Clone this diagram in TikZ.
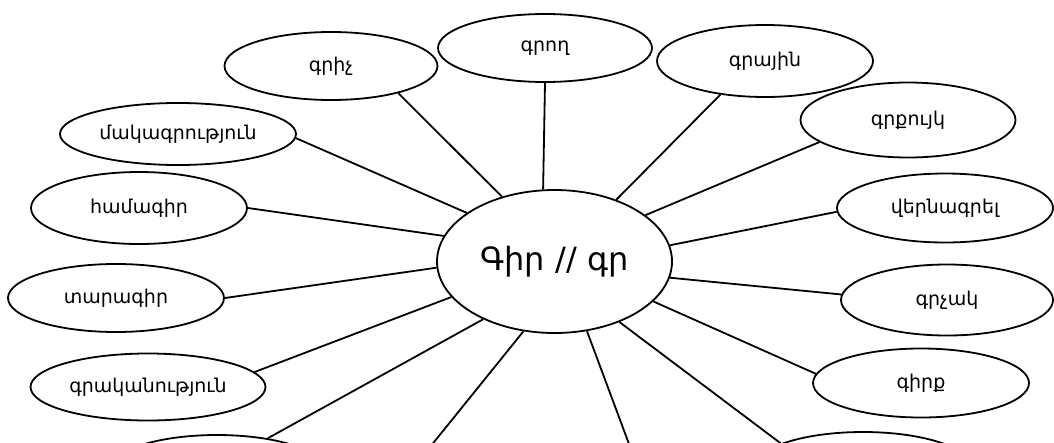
\documentclass[tikz,border=0pt]{standalone}
\usepackage{fontspec}
\setmainfont{DejaVu Sans}
\usetikzlibrary{shapes.geometric}
\begin{document}
\begin{tikzpicture}[x=1pt,y=-1pt,
  bub/.style={draw, ellipse, line width=1.8pt, inner sep=0pt, minimum width=216pt, minimum height=70pt, font=\fontsize{19}{22}\selectfont, fill=white},
  link/.style={line width=1.8pt}]
\useasboundingbox (0,0) rectangle (1054,442);
\clip (0,0) rectangle (1054,442);
\fill[white] (0,0) rectangle (1054,442);
% central node
\node[bub, minimum width=235pt, minimum height=143pt, font=\fontsize{32}{38}\selectfont] (main) at (554.5,261.5) {Գիր // գր};
% outer nodes
\node[bub, minimum width=213pt, minimum height=68pt] (grich) at (331,66) {գրիչ};
\node[bub, minimum width=214pt, minimum height=68pt] (grogh) at (545,48) {գրող};
\node[bub, minimum height=72pt] (grayin) at (765,61) {գրային};
\node[bub, minimum width=215pt, minimum height=75pt] (grqujk) at (908,120) {գրքույկ};
\node[bub, minimum height=69pt] (vernagrel) at (945,208) {վերնագրել};
\node[bub, minimum width=212pt, minimum height=71pt] (grchak) at (947,300) {գրչակ};
\node[bub, minimum height=69pt] (girq) at (921,383) {գիրք};
\node[bub] (br) at (863,467) {};
\node[bub] (bl) at (217,470) {};
\node[bub, minimum width=235pt, minimum height=67pt] (grakan) at (148,387) {գրականություն};
\node[bub, minimum height=68pt] (taragir) at (116,298) {տարագիր};
\node[bub, minimum height=72pt] (hamagir) at (139,208) {համագիր};
\node[bub, minimum width=236pt, minimum height=62pt] (makagr) at (178,134) {մակագրություն};
\coordinate (dl) at (426,452);
\coordinate (dr) at (632,452);
% connectors
\draw[link] (main.129) -- (grich.-22);
\draw[link] (main.99) -- (grogh.south);
\draw[link] (main.45.5) -- (grayin.-143);
\draw[link] (main.27.7) -- (grqujk.194);
\draw[link] (main.8.9) -- (vernagrel.182);
\draw[link] (main.-8.9) -- (grchak.177);
\draw[link] (main.-22.4) -- (girq.175);
\draw[link] (main.-43.2) -- (br.164.2);
\draw[link] (main.-65.6) -- (dr);
\draw[link] (main.-114.4) -- (dl);
\draw[link] (main.-141.1) -- (bl.32.4);
\draw[link] (main.199.6) -- (grakan.8);
\draw[link] (main.183.2) -- (taragir.0);
\draw[link] (main.167.6) -- (hamagir.0);
\draw[link] (main.151.6) -- (makagr.-2.5);
\end{tikzpicture}
\end{document}
